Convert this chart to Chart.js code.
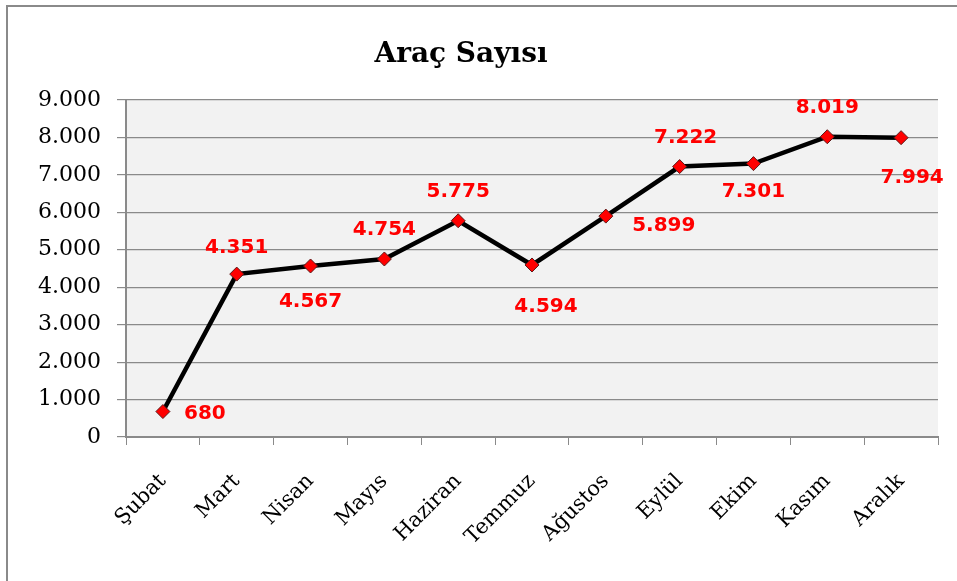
<!DOCTYPE html>
<html>
<head>
<meta charset="utf-8">
<script src="https://cdn.jsdelivr.net/npm/chart.js@4.4.1/dist/chart.umd.min.js"></script>
<style>
  html,body{margin:0;padding:0;background:#fff;}
  #wrap{width:957px;height:581px;position:relative;}
</style>
</head>
<body>
<div id="wrap"><canvas id="myChart" width="957" height="581"></canvas></div>
<script>
var chartTitle='Araç Sayısı';
var months=['Şubat','Mart','Nisan','Mayıs','Haziran','Temmuz','Ağustos','Eylül','Ekim','Kasım','Aralık'];
var vehicles=[680,4351,4567,4754,5775,4594,5899,7222,7301,8019,7994];
var labelSide=['right','above','below','above','above','below','right','above','below','above','below'];
var yTicks=[0,1000,2000,3000,4000,5000,6000,7000,8000,9000];

function trNum(v){
  return String(v).replace(/\B(?=(\d{3})+(?!\d))/g,'.');
}

// gray plot background, frame, title
var bgPlugin={
  id:'bgPlugin',
  beforeDraw:function(chart){
    var c=chart.ctx, a=chart.chartArea;
    c.save();
    c.fillStyle='#f2f2f2';
    c.fillRect(a.left,a.top,a.right-a.left,a.bottom-a.top);
    c.strokeStyle='#8a8a8a';
    c.lineWidth=2;
    c.beginPath();
    c.moveTo(7,chart.height);
    c.lineTo(7,6);
    c.lineTo(chart.width,6);
    c.stroke();
    c.fillStyle='#000';
    c.font='bold 28px "DejaVu Serif"';
    c.textAlign='center';
    c.textBaseline='alphabetic';
    c.fillText(chartTitle,461,62);
    c.restore();
  }
};

// red value labels next to each point
var valuePlugin={
  id:'valuePlugin',
  afterDatasetsDraw:function(chart){
    var c=chart.ctx;
    var meta=chart.getDatasetMeta(0);
    c.save();
    c.font='bold 20px "DejaVu Sans"';
    c.fillStyle='#ff0000';
    c.textAlign='center';
    c.textBaseline='middle';
    meta.data.forEach(function(pt,i){
      var x=pt.x, y=pt.y;
      var side=labelSide[i];
      if(side=='above'){ y-=29; }
      else if(side=='below'){ y+=36; }
      else { x+=42; y+=2; }
      if(i==1){ y+=3; }
      if(i==5){ x+=14; y+=6; }
      if(i==6){ x+=16; y+=8; }
      if(i==7){ x+=6; }
      if(i==8){ y-=8; }
      if(i==10){ x+=11; y+=4; }
      c.fillText(trNum(vehicles[i]),x,y);
    });
    c.restore();
  }
};

var ctx=document.getElementById('myChart');
var myChart=new Chart(ctx,{
  type:'line',
  data:{
    labels:months,
    datasets:[{
      label:chartTitle,
      data:vehicles,
      borderColor:'#000000',
      borderWidth:4.5,
      tension:0,
      pointStyle:'rectRot',
      pointRadius:7,
      pointBackgroundColor:'#ff0000',
      pointBorderColor:'#5a1a1a',
      pointBorderWidth:1
    }]
  },
  options:{
    responsive:false,
    animation:false,
    layout:{padding:{top:100,left:0,right:19,bottom:0}},
    plugins:{
      legend:{display:false},
      tooltip:{enabled:false},
      title:{display:false}
    },
    scales:{
      x:{
        offset:true,
        grid:{offset:true,drawOnChartArea:false,drawTicks:true,tickLength:8,color:'#8a8a8a'},
        border:{color:'#8a8a8a',width:2},
        ticks:{
          color:'#000',
          font:{family:'"DejaVu Serif"',size:21},
          minRotation:45,maxRotation:45,
          padding:24,
          autoSkip:false
        },
        afterFit:function(s){ s.height=581-437; }
      },
      y:{
        min:0,max:9000,
        afterBuildTicks:function(s){ s.ticks=yTicks.map(function(v){return {value:v};}); },
        grid:{color:'#8a8a8a',lineWidth:1.2,tickLength:9},
        border:{color:'#8a8a8a',width:2},
        ticks:{
          color:'#000',
          font:{family:'"DejaVu Serif"',size:22},
          padding:16,
          callback:function(v){ return trNum(v); }
        },
        afterFit:function(s){ s.width=126; }
      }
    }
  },
  plugins:[bgPlugin,valuePlugin]
});
</script>
</body>
</html>
